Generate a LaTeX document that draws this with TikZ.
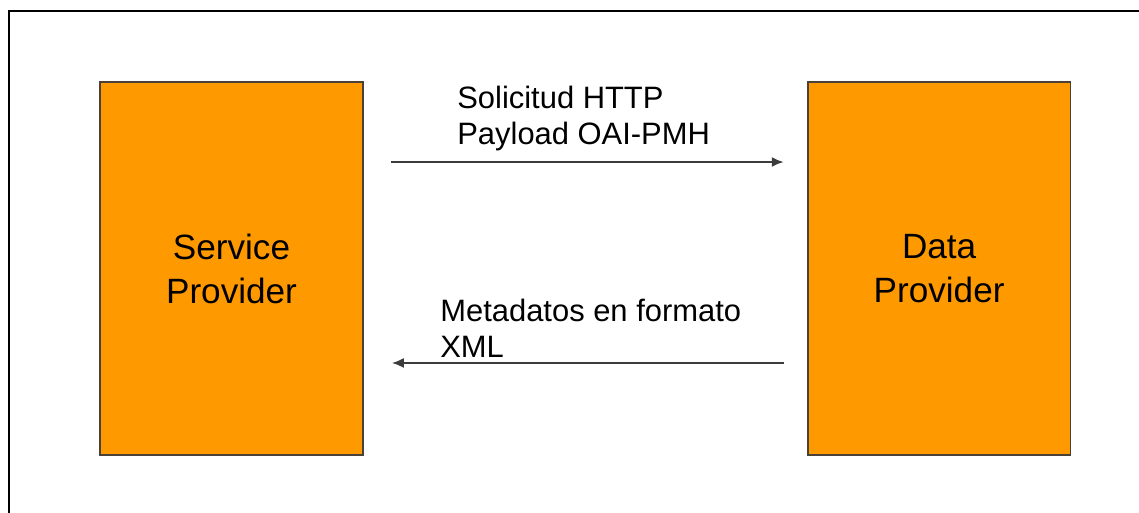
\documentclass[tikz,border=0pt]{standalone}
\usepackage{fontspec}
\setmainfont{Liberation Sans}
\usepackage{tikz}
\usetikzlibrary{arrows.meta,positioning}
\definecolor{boxorange}{HTML}{FF9900}
\definecolor{boxline}{HTML}{4A4238}
\definecolor{msgline}{HTML}{3C3C3C}

\begin{document}
\begin{tikzpicture}[x=0.02cm,y=-0.02cm,
    provider/.style={draw=boxline,line width=0.035cm,fill=boxorange,
      minimum width=5.26cm,minimum height=7.46cm,align=center,
      font=\fontsize{20}{25}\selectfont},
    msg/.style={draw=msgline,line width=0.038cm,-{Latex[length=0.24cm,width=0.2cm]}},
    msglabel/.style={anchor=north west,inner sep=0pt,align=left,
      font=\fontsize{17.6}{20.5}\selectfont}] % Service Provider <-> Data Provider
  \useasboundingbox (0,0) rectangle (1139,513);
  \clip (0,0) rectangle (1139,513);
  \draw[line width=0.04cm] (9,11) rectangle (1200,600);
  \node[provider] (sp) at (231.5,268.5) {Service\\Provider};
  \node[provider,right=8.86cm of sp] (dp) {Data\\Provider};
  \draw[msg,shorten <=0.54cm,shorten >=0.46cm] ([yshift=2.13cm]sp.east) -- ([yshift=2.13cm]dp.west);
  \draw[msg,shorten <=0.46cm,shorten >=0.56cm] ([yshift=-1.89cm]dp.west) -- ([yshift=-1.89cm]sp.east);
  \node[msglabel] (req) at (457,86) {Solicitud HTTP\\Payload OAI-PMH};
  \node[msglabel] (resp) at (440,299) {Metadatos en formato\\XML};
\end{tikzpicture}
\end{document}
